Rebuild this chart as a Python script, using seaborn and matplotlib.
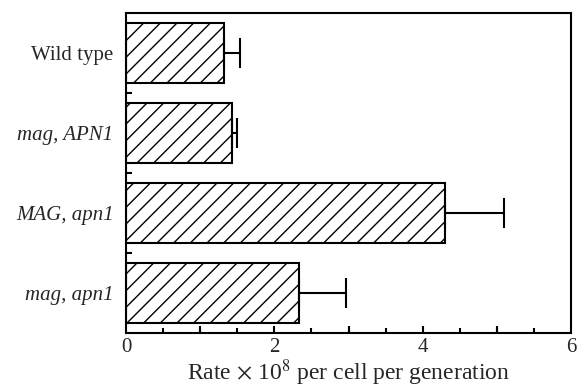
import matplotlib
matplotlib.use("Agg")
import matplotlib.pyplot as plt
import seaborn as sns
import pandas as pd
from matplotlib.ticker import MultipleLocator, FixedLocator

strains = ["Wild type", "mag, APN1", "MAG, apn1", "mag, apn1"]
rates = [1.32, 1.43, 4.30, 2.33]
errors = [0.22, 0.06, 0.80, 0.64]

sns.set_theme(style="ticks")
plt.rcParams["font.family"] = ["Liberation Serif", "DejaVu Serif"]
plt.rcParams["mathtext.fontset"] = "stix"
plt.rcParams["hatch.linewidth"] = 1.0

df = pd.DataFrame({"strain": strains, "rate": rates})

fig = plt.figure(figsize=(5.78, 3.88), dpi=100)
ax = fig.add_axes([0.218, 0.142, 0.770, 0.824])

lw = 1.5
sns.barplot(data=df, x="rate", y="strain", orient="h", ax=ax,
            color="white", edgecolor="black", linewidth=lw,
            width=0.75, errorbar=None)
for p in ax.patches:
    p.set_hatch("//")
    p.set_facecolor("white")
    p.set_edgecolor("black")

ax.errorbar(rates, range(len(strains)), xerr=[[0] * len(errors), errors],
            fmt="none", ecolor="black", elinewidth=lw, capsize=11,
            capthick=lw, zorder=1)

ax.set_xlim(0, 6)
ax.set_ylim(3.5, -0.5)
ax.xaxis.set_major_locator(FixedLocator([0, 2, 4, 6]))
ax.xaxis.set_minor_locator(MultipleLocator(0.5))
ax.set_yticks([0, 1, 2, 3])
ax.set_yticks([0.5, 1.5, 2.5], minor=True)
ax.tick_params(axis="both", which="both", direction="in", color="black")
ax.tick_params(axis="x", which="major", length=0, labelsize=15, pad=4)
ax.tick_params(axis="x", which="minor", length=3.5, width=lw)
ax.tick_params(axis="y", which="major", length=0, labelsize=15, pad=9)
ax.tick_params(axis="y", which="minor", length=4, width=lw)
# integer ticks longer (1,3,5 unlabeled; 0,2,4,6 labeled)
for xv in [1, 2, 3, 4, 5]:
    ax.plot([xv, xv], [3.5, 3.5 - 0.09], color="black", lw=lw, clip_on=False,
            solid_capstyle="butt")

for lab in ax.get_yticklabels():
    if lab.get_text() != "Wild type":
        lab.set_style("italic")

for s in ax.spines.values():
    s.set_linewidth(lw)
    s.set_color("black")

ax.set_ylabel("")
ax.set_xlabel(r"Rate $\times$ 10$^{8}$ per cell per generation",
              fontsize=17, labelpad=0)

fig.savefig("out.png", dpi=100)
